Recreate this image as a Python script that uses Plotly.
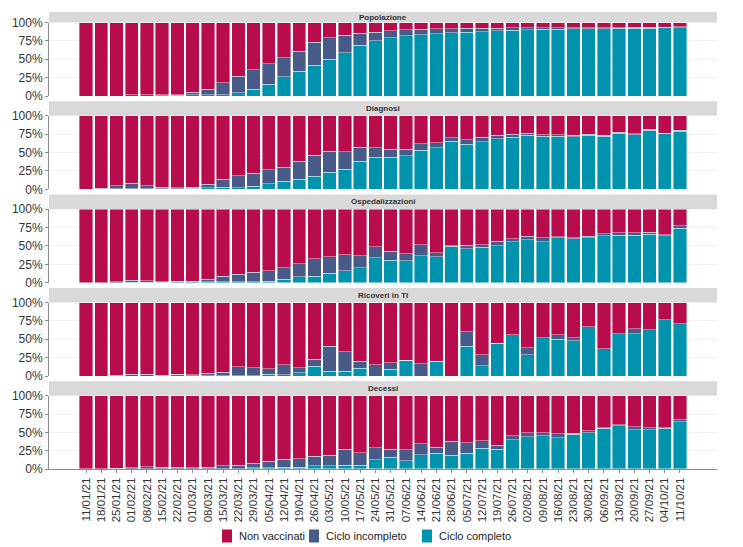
import plotly.graph_objects as go

dates = ["11/01/21","18/01/21","25/01/21","01/02/21","08/02/21","15/02/21","22/02/21","01/03/21",
         "08/03/21","15/03/21","22/03/21","29/03/21","05/04/21","12/04/21","19/04/21","26/04/21",
         "03/05/21","10/05/21","17/05/21","24/05/21","31/05/21","07/06/21","14/06/21","21/06/21",
         "28/06/21","05/07/21","12/07/21","19/07/21","26/07/21","02/08/21","09/08/21","16/08/21",
         "23/08/21","30/08/21","06/09/21","13/09/21","20/09/21","27/09/21","04/10/21","11/10/21"]

panels = ["Popolazione", "Diagnosi", "Ospedalizzazioni", "Ricoveri in TI", "Decessi"]

# percent "Ciclo completo" (bottom) and top of "Ciclo incompleto" (completo + incompleto)
pop_comp = [0,0,0,0,0,0.5,1,2,2,2,4.5,9,16,26,34,42,50,59,69,75.5,79.5,82,83.6,85,86,87,87.7,88.6,89.5,90,90.5,91,91.4,91.6,91.8,92,92.3,92.5,92.7,93]
pop_top = [0,0,0,1.5,1.5,1.5,2,5,9,18,27,36,44,52,61,73,79,83,85.5,87,88.6,90,90.5,91.4,91.8,92,92.3,92.5,92.7,92.8,92.8,92.9,93,93,93.1,93.2,93.6,93.6,93.7,94]

dia_comp = [0,0,0.5,1,1,1,1,1.5,2,2.5,2,4,7.7,11,14,17.6,23.5,27,38.5,43.4,43.4,45.7,53.4,56.6,65.6,61,64.7,68.8,71,73.8,72,72.4,71.5,73.3,72,76,74,80.5,75.6,79]
dia_top = [0,1.4,4.5,8,5,3,2.3,3,7,13.5,18.5,21.7,26.7,30.3,38,46,52,51,57.5,56.6,54.3,54.8,62,63,70,67.4,71,73.3,75,76.5,74,74,73.3,74.6,73.8,77.4,75.5,82,76.5,80.5]

osp_comp = [0,0,0,0.5,0.5,0.5,1,1,1,1,1,1.4,2.3,5,8,9,13,16.4,20,33.6,30.5,30,36.8,35.5,49.5,46.4,48.2,50,56,58.6,56,61.4,60,61.4,64,64.5,64.5,66,64,74]
osp_top = [0,0,1,3.2,2.7,1.4,1.8,1.8,5,8.6,11.8,14,16.4,20,26,32.7,35.5,37.7,36.4,48.8,42.7,39.5,51.8,40.5,50.5,51,51.8,56.4,60,63,61,62.7,61.4,63,66.4,67.7,67.7,68.6,65.5,77.3]

ti_comp = [0,0,0,0,0,0,1.4,0.5,0.5,0.5,0.5,0.5,2.3,1.4,4.5,13.6,6.3,6.3,10.4,0,9,21.4,0,20,0,40.5,14,44.5,55.9,28.6,52.3,50,47.7,66.8,37.3,57.7,57.3,62.7,76.8,71.4]
ti_top = [0,0,1,2.3,2.7,1,2.3,1.4,4,5.4,12.7,11.3,10,15.4,10.9,23,40.3,33,19.9,15.2,18,21.4,16.4,20,0,60,28.6,44.5,55.9,38.2,52.3,56.4,52.3,66.8,37.3,57.7,64.5,62.7,76.8,71.4]

dec_comp = [0,0,0,0,0,0,0,0,0,0.5,0.5,1.8,1.4,2.3,2.3,4.5,4.5,5,5.4,12.5,16.3,11.3,19.5,21.3,19,21.3,28.5,27.1,39.8,43.9,45.7,43,47.5,49.8,55.7,59.3,53.8,53.8,55.7,64.7]
dec_top = [0,0,1,1.8,3.2,2.7,2.7,1.4,2.3,4.5,5.4,8.1,10.4,13.1,14,17.6,19,26.7,22.2,29,26.7,26.2,34.4,29.4,38,35.7,38.5,32.1,45.7,49.3,49.3,48.4,48.9,52.5,56.1,60.2,57.5,56.6,56.1,67]

comp_list = [pop_comp, dia_comp, osp_comp, ti_comp, dec_comp]
top_list = [pop_top, dia_top, osp_top, ti_top, dec_top]

series_names = ["Ciclo completo", "Ciclo incompleto", "Non vaccinati"]
legend_order = ["Non vaccinati", "Ciclo incompleto", "Ciclo completo"]
colors = {"Non vaccinati": "#B80C4D", "Ciclo incompleto": "#475A88", "Ciclo completo": "#0093AD"}

W, H = 743, 547
ML, MR, MT, MB = 49, 26, 12, 78
PW = W - ML - MR
PH = H - MT - MB


def py(p):
    return (H - MB - p) / PH


def px(p):
    return (p - ML) / PW


panel_tops = [22.5, 115.8, 209.2, 302.5, 395.8]
panel_h = 73.5
strip_tops = [12.0, 101.2, 194.6, 288.0, 381.2]

fig = go.Figure()
xs = list(range(len(dates)))
for k in range(5):
    comp = [c / 100 for c in comp_list[k]]
    inc = [(t - c) / 100 for t, c in zip(top_list[k], comp_list[k])]
    non = [1 - t / 100 for t in top_list[k]]
    vals = {"Ciclo completo": comp, "Ciclo incompleto": inc, "Non vaccinati": non}
    yname = "y" if k == 0 else f"y{k+1}"
    for s in series_names:
        fig.add_trace(go.Bar(
            x=xs, y=vals[s], name=s, yaxis=yname, xaxis="x",
            marker=dict(color=colors[s], line=dict(color="rgba(255,255,255,0.8)", width=0.5)),
            legendgroup=s, showlegend=False, hoverinfo="skip"))

layout = dict(
    width=W, height=H, margin=dict(l=ML, r=MR, t=MT, b=MB, autoexpand=False),
    paper_bgcolor="white", plot_bgcolor="white",
    barmode="stack", bargap=0.12,
    font=dict(family="Liberation Sans, Arial, sans-serif", color="#333333"),
    showlegend=False,
    xaxis=dict(range=[-2.43, 41.43], tickvals=xs, ticktext=dates, tickangle=-90,
               tickfont=dict(size=11.5, color="#333333"), showgrid=False, zeroline=False,
               showline=True, linecolor="#8C8C8C", linewidth=1, ticks="outside",
               ticklen=3, tickcolor="#8C8C8C", anchor="y5", domain=[0, 1], automargin=False),
)
shapes = []
annotations = []
for k in range(5):
    top = panel_tops[k]
    bot = min(top + panel_h, H - MB)
    key = "yaxis" if k == 0 else f"yaxis{k+1}"
    layout[key] = dict(
        domain=[py(bot), py(top)], range=[0, 1],
        tickvals=[0, 0.25, 0.5, 0.75, 1], ticktext=["0%", "25%", "50%", "75%", "100%"],
        tickfont=dict(size=12, color="#333333"),
        showgrid=True, gridcolor="#F0F0F0", gridwidth=1, zeroline=False,
        showline=True, linecolor="#8C8C8C", linewidth=1, ticks="outside",
        ticklen=3, tickcolor="#8C8C8C", anchor="x", automargin=False)
    shapes.append(dict(type="rect", xref="paper", yref="paper", x0=0, x1=1,
                       y0=py(top), y1=py(strip_tops[k]), fillcolor="#D9D9D9",
                       line=dict(width=0), layer="below"))
    annotations.append(dict(text=f"<b>{panels[k]}</b>", xref="paper", yref="paper",
                            x=0.5, y=(py(top) + py(strip_tops[k])) / 2, xanchor="center",
                            yanchor="middle", showarrow=False,
                            font=dict(size=8, color="#333333")))

# legend (drawn as keys + labels below the chart)
legend_box_x = [222, 309, 422]
for name, bx in zip(legend_order, legend_box_x):
    shapes.append(dict(type="rect", xref="paper", yref="paper",
                       x0=px(bx), x1=px(bx + 10), y0=py(542.5), y1=py(529.5),
                       fillcolor=colors[name], line=dict(width=0)))
    annotations.append(dict(text=name, xref="paper", yref="paper", x=px(bx + 14.5),
                            y=py(536), xanchor="left", yanchor="middle", showarrow=False,
                            font=dict(size=11, color="#222222")))

layout["shapes"] = shapes
layout["annotations"] = annotations
fig.update_layout(**layout)
fig.write_html("out.html")
